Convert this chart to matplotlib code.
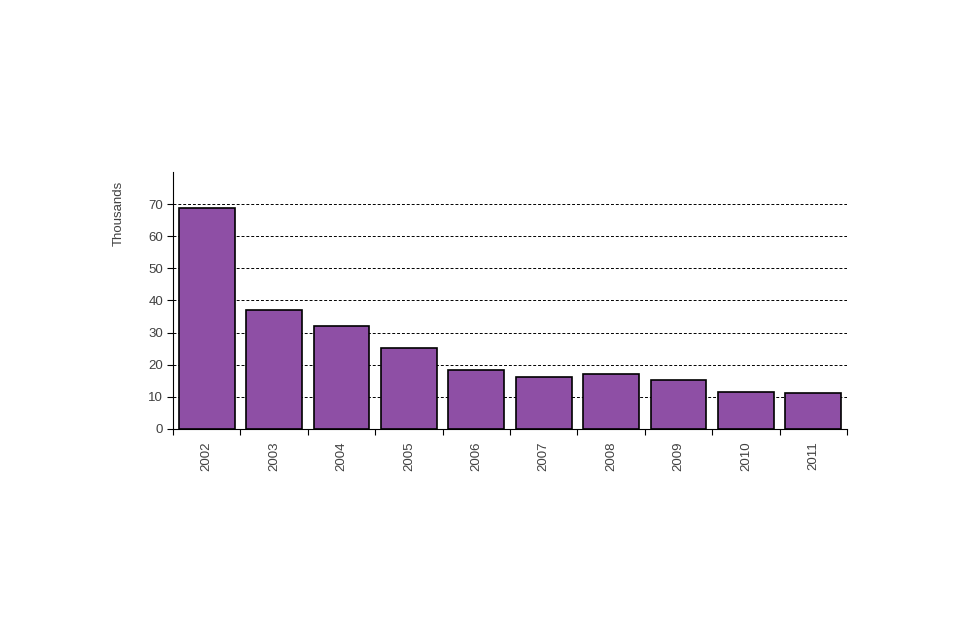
import matplotlib
matplotlib.use("Agg")
import matplotlib.pyplot as plt
import numpy as np

# Values in thousands
years = ["2002", "2003", "2004", "2005", "2006", "2007", "2008", "2009", "2010", "2011"]
values = [68.8, 37.0, 32.1, 25.2, 18.4, 16.2, 17.1, 15.2, 11.5, 11.2]
y_ticks = [0, 10, 20, 30, 40, 50, 60, 70]

plt.rcParams['font.family'] = ['Liberation Sans', 'DejaVu Sans']

fig = plt.figure(figsize=(9.6, 6.4), dpi=100)
ax = fig.add_axes([0.1802, 0.3297, 0.7021, 0.4016])

x = np.arange(len(years))
ax.bar(x, values, width=0.83, color='#8E4FA5', edgecolor='black', linewidth=1.2, zorder=3)

ax.set_xlim(-0.5, len(years) - 0.5)
ax.set_ylim(0, 80)

# gridlines
for t in y_ticks[1:]:
    ax.axhline(t, color='black', linestyle=(0, (3, 2)), linewidth=0.7, zorder=1)

ax.set_yticks(y_ticks)
ax.set_yticklabels([str(t) for t in y_ticks], fontsize=9.5, color='#404040')
ax.set_xticks(x)
ax.set_xticklabels(years, rotation=90, fontsize=9.5, color='#404040')
ax.tick_params(axis='x', which='major', length=0, pad=9)
ax.set_xticks(np.arange(-0.5, len(years)), minor=True)
ax.tick_params(axis='x', which='minor', length=4, direction='out', width=0.8)
ax.tick_params(axis='y', length=4, direction='out', width=0.8, pad=3)

ax.set_ylabel("Thousands", fontsize=9.5, color='#404040')
ax.yaxis.set_label_coords(-0.072, 0.84)

for s in ['top', 'right']:
    ax.spines[s].set_visible(False)
for s in ['left', 'bottom']:
    ax.spines[s].set_linewidth(0.8)

fig.savefig("out.png", dpi=100)
